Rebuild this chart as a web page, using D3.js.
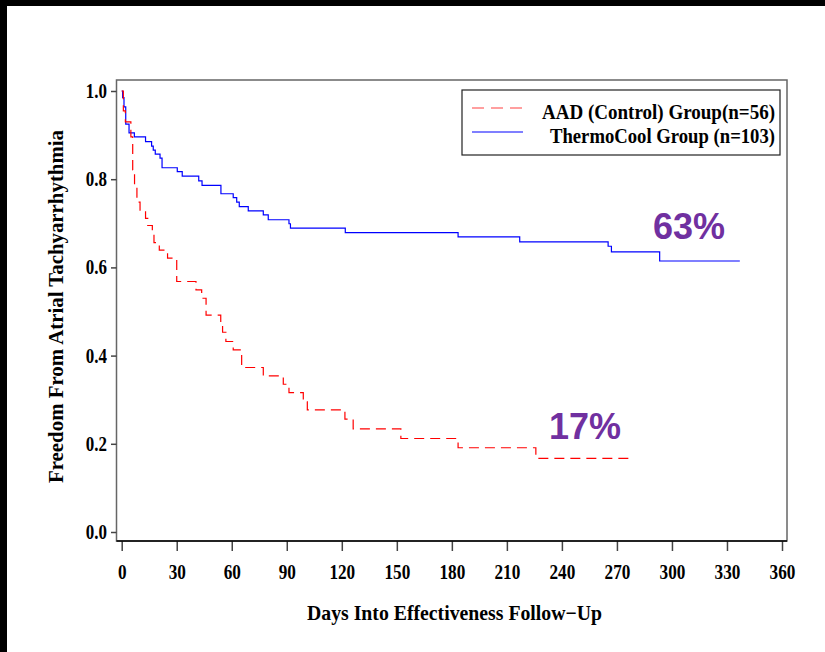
<!DOCTYPE html>
<html>
<head>
<meta charset="utf-8">
<script src="https://cdn.jsdelivr.net/npm/d3@7"></script>
<style>
  body { margin: 0; background: #fff; }
  svg { display: block; }
  .tick text { font-family: "Liberation Serif", serif; font-weight: bold; font-size: 20px; fill: #000; }
  .lbl { font-family: "Liberation Serif", serif; font-weight: bold; font-size: 21px; fill: #000; }
  .pct { font-family: "Liberation Sans", Arial, sans-serif; font-weight: bold; font-size: 36px; fill: #7030a0; }
</style>
</head>
<body>
<svg width="825" height="652"></svg>
<script>
// Kaplan-Meier steps: day of the event and survival after it
var aadDays = [0, 0.9, 2, 5, 6, 7, 8.3, 10, 13, 14.2, 16.7, 17.6, 20.5, 25, 30, 40.5, 43.6, 46, 54, 55, 56.8, 60.8, 65.4, 77.2, 88.1, 91.2, 99, 101.2, 121.7, 126.2, 152.2, 183.4, 225.8, 277];
var aadSurv = [1.0, 0.955, 0.93, 0.896, 0.821, 0.783, 0.748, 0.73, 0.711, 0.695, 0.675, 0.656, 0.639, 0.621, 0.568, 0.549, 0.53, 0.492, 0.472, 0.453, 0.432, 0.413, 0.373, 0.354, 0.335, 0.316, 0.295, 0.277, 0.256, 0.234, 0.212, 0.191, 0.167, 0.167];

var tcDays = [0, 0.5, 1.25, 2.2, 4, 6.9, 13, 16.3, 17.2, 18.3, 20.9, 22, 30.3, 33, 42, 43.8, 54.1, 60.8, 62.7, 64.1, 69, 77.2, 79.9, 91.2, 92, 121.9, 183.4, 217, 265.2, 267, 293.3, 337];
var tcSurv = [1.0, 0.985, 0.964, 0.925, 0.905, 0.896, 0.885, 0.875, 0.866, 0.857, 0.848, 0.826, 0.817, 0.807, 0.796, 0.786, 0.767, 0.758, 0.748, 0.738, 0.728, 0.719, 0.708, 0.699, 0.689, 0.679, 0.669, 0.658, 0.648, 0.635, 0.6145, 0.6145];

var xTicks = [0, 30, 60, 90, 120, 150, 180, 210, 240, 270, 300, 330, 360];
var yTicks = [0, 0.2, 0.4, 0.6, 0.8, 1.0];

var seriesNames = ['AAD (Control) Group(n=56)', 'ThermoCool Group (n=103)'];
var endLabels = ['17%', '63%'];

var svg = d3.select('svg');

// black bands along the top and left edge of the picture
svg.append('rect').attr('x', 0).attr('y', 0).attr('width', 825).attr('height', 6).attr('fill', '#000');
svg.append('rect').attr('x', 0).attr('y', 0).attr('width', 7).attr('height', 652).attr('fill', '#000');

var frame = {l: 116.5, t: 80, r: 787, b: 541};

var x = d3.scaleLinear().domain([0, 360]).range([121.7, 782]);
var y = d3.scaleLinear().domain([0, 1]).range([532, 91]);

// narrow, condensed look of the tick numbers
function squeeze(sel) {
    sel.attr('textLength', function() {
        var s = this.textContent, w = 0;
        for (var i = 0; i < s.length; i++) w += (s[i] === '.') ? 4 : 8.6;
        return w;
    }).attr('lengthAdjust', 'spacingAndGlyphs');
}

// plot frame
svg.append('rect')
    .attr('x', frame.l).attr('y', frame.t)
    .attr('width', frame.r - frame.l).attr('height', frame.b - frame.t)
    .attr('fill', 'none').attr('stroke', '#666').attr('stroke-width', 1.5);

// x axis
var xAxisG = svg.append('g')
    .attr('transform', 'translate(0,' + frame.b + ')')
    .call(d3.axisBottom(x).tickValues(xTicks).tickSize(10).tickPadding(14));
xAxisG.select('.domain').remove();
xAxisG.selectAll('.tick line').attr('stroke', '#444').attr('stroke-width', 1.5);
xAxisG.selectAll('.tick text').call(squeeze);
svg.append('line')
    .attr('x1', frame.l).attr('x2', frame.r)
    .attr('y1', frame.b).attr('y2', frame.b)
    .attr('stroke', '#000').attr('stroke-width', 1.5);

// y axis
var yAxisG = svg.append('g')
    .attr('transform', 'translate(' + frame.l + ',0)')
    .call(d3.axisLeft(y).tickValues(yTicks).tickSize(5.5).tickPadding(4).tickFormat(d3.format('.1f')));
yAxisG.select('.domain').remove();
yAxisG.selectAll('.tick line').attr('stroke', '#444').attr('stroke-width', 1.5);
yAxisG.selectAll('.tick text').call(squeeze);

// axis titles
svg.append('text').attr('class', 'lbl')
    .attr('x', 307).attr('y', 620)
    .attr('textLength', 295).attr('lengthAdjust', 'spacingAndGlyphs')
    .text('Days Into Effectiveness Follow\u2212Up');

svg.append('text').attr('class', 'lbl')
    .attr('transform', 'translate(63,483) rotate(-90)')
    .attr('textLength', 353).attr('lengthAdjust', 'spacingAndGlyphs')
    .text('Freedom From Atrial Tachyarrhythmia');

// survival curves
var line = d3.line()
    .x(function(d) { return x(d[0]); })
    .y(function(d) { return y(d[1]); })
    .curve(d3.curveStepAfter);

svg.append('path')
    .datum(d3.zip(tcDays, tcSurv))
    .attr('d', line)
    .attr('fill', 'none').attr('stroke', '#0000ff').attr('stroke-width', 1.2);

svg.append('path')
    .datum(d3.zip(aadDays, aadSurv))
    .attr('d', line)
    .attr('fill', 'none').attr('stroke', '#ff0000').attr('stroke-width', 1.2)
    .attr('stroke-dasharray', '10,6');

// end-of-curve percentages
svg.append('text').attr('class', 'pct').attr('x', 549).attr('y', 439).text(endLabels[0]);
svg.append('text').attr('class', 'pct').attr('x', 653).attr('y', 239).text(endLabels[1]);

// legend
var legG = svg.append('g');
legG.append('rect')
    .attr('x', 462).attr('y', 90).attr('width', 318).attr('height', 65)
    .attr('fill', '#fff').attr('stroke', '#222').attr('stroke-width', 1.2);
legG.append('line')
    .attr('x1', 472).attr('x2', 523).attr('y1', 108).attr('y2', 108)
    .attr('stroke', '#ff4040').attr('stroke-width', 1.2).attr('stroke-dasharray', '12,7');
legG.append('line')
    .attr('x1', 472).attr('x2', 523).attr('y1', 132).attr('y2', 132)
    .attr('stroke', '#0000ff').attr('stroke-width', 1.2);
legG.append('text').attr('class', 'lbl')
    .attr('x', 542).attr('y', 119)
    .attr('textLength', 233).attr('lengthAdjust', 'spacingAndGlyphs')
    .text(seriesNames[0]);
legG.append('text').attr('class', 'lbl')
    .attr('x', 550).attr('y', 143)
    .attr('textLength', 225).attr('lengthAdjust', 'spacingAndGlyphs')
    .text(seriesNames[1]);
</script>
</body>
</html>
